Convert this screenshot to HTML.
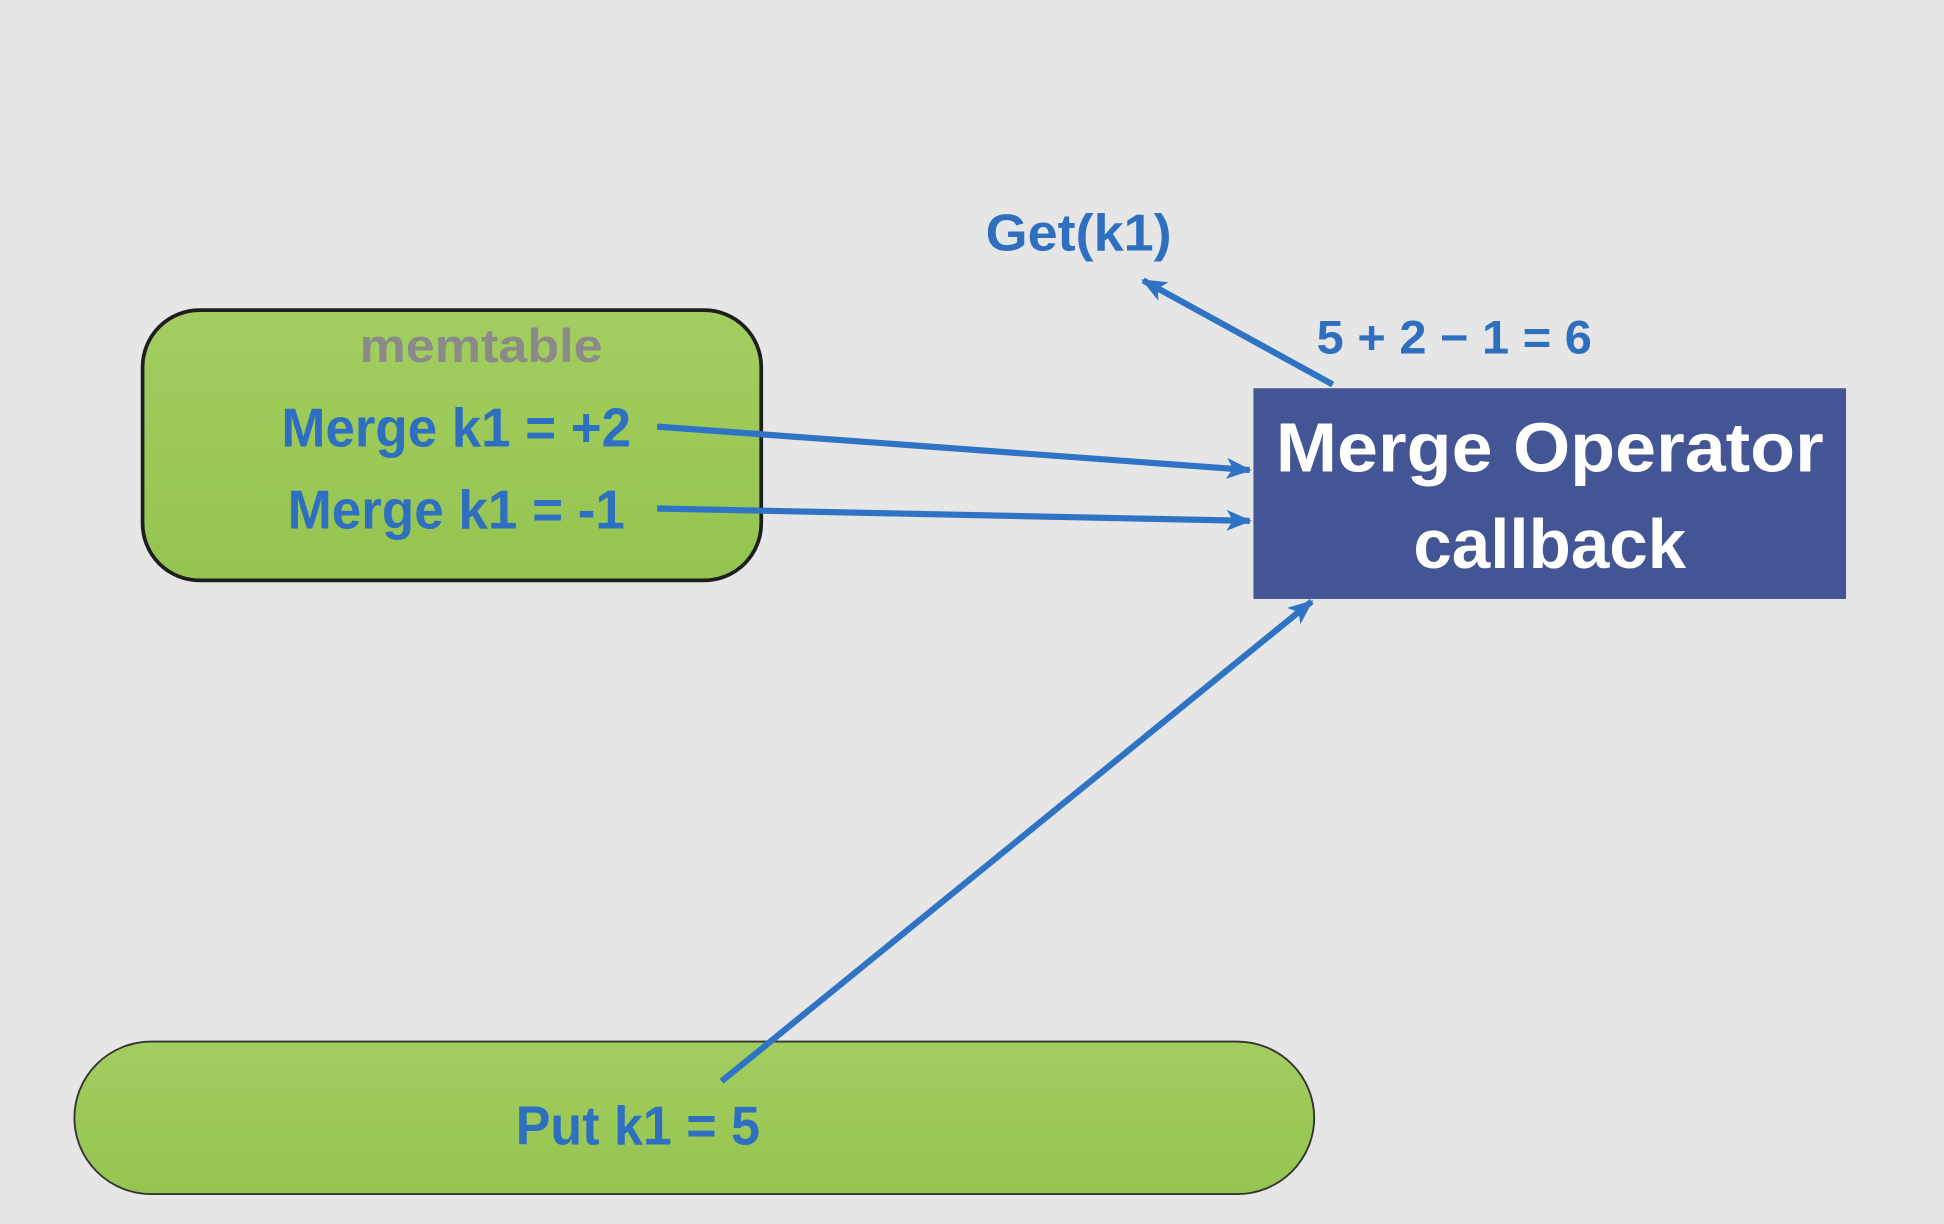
<!DOCTYPE html>
<html><head><meta charset="utf-8"><style>
html,body{margin:0;padding:0;background:#e6e6e6;}
svg{display:block;}
text{font-family:"Liberation Sans",sans-serif;font-weight:bold;}
</style></head><body>
<svg width="1944" height="1224" viewBox="0 0 1568 987" xmlns="http://www.w3.org/2000/svg">
<defs>
<linearGradient id="g" x1="0" y1="0" x2="0" y2="1">
<stop offset="0" stop-color="#a3cd60"/><stop offset="1" stop-color="#95c450"/>
</linearGradient>
<marker id="a" viewBox="0 0 12 10" refX="11" refY="5" markerWidth="4.2" markerHeight="3.4" orient="auto" markerUnits="strokeWidth">
<path d="M0,0 L12,5 L0,10 L3,5 z" fill="#2f74c4"/>
</marker>
</defs>
<rect width="1568" height="987" fill="#e6e6e6"/>
<rect x="115" y="250" width="499" height="218" rx="46" fill="url(#g)" stroke="#1e1e1e" stroke-width="3"/>
<text x="388" y="292" font-size="38" fill="#8a8a8a" text-anchor="middle" textLength="196" lengthAdjust="spacingAndGlyphs">memtable</text>
<text x="227" y="360" font-size="44" fill="#2e6fc0" textLength="282" lengthAdjust="spacingAndGlyphs">Merge k1 = +2</text>
<text x="232" y="426" font-size="44" fill="#2e6fc0" textLength="272" lengthAdjust="spacingAndGlyphs">Merge k1 = -1</text>
<rect x="60" y="840" width="1000" height="123" rx="62" fill="url(#g)" stroke="#333" stroke-width="1.5"/>
<text x="416" y="923" font-size="44" fill="#2e6fc0" textLength="197" lengthAdjust="spacingAndGlyphs">Put k1 = 5</text>
<rect x="1011" y="313" width="478" height="170" fill="#435594"/>
<text x="1250" y="380" font-size="56" fill="#fff" text-anchor="middle" textLength="442" lengthAdjust="spacingAndGlyphs">Merge Operator</text>
<text x="1250" y="458" font-size="56" fill="#fff" text-anchor="middle" textLength="220" lengthAdjust="spacingAndGlyphs">callback</text>
<text x="795" y="202" font-size="42" fill="#2e6fc0" textLength="150" lengthAdjust="spacingAndGlyphs">Get(k1)</text>
<text x="1062" y="285" font-size="38" fill="#2e6fc0" textLength="222" lengthAdjust="spacingAndGlyphs">5 + 2 − 1 = 6</text>
<g stroke="#2f74c4" stroke-width="5" fill="none" marker-end="url(#a)">
<line x1="530" y1="344" x2="1008" y2="379"/>
<line x1="530" y1="410" x2="1008" y2="420"/>
<line x1="1075" y1="310" x2="922" y2="226"/>
<line x1="582" y1="872" x2="1058" y2="485"/>
</g>
</svg>
</body></html>
